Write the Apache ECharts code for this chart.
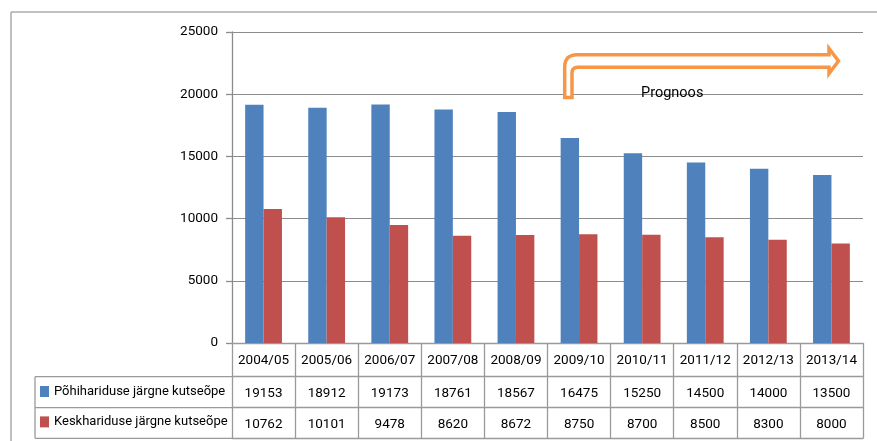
<!DOCTYPE html>
<html>
<head>
<meta charset="utf-8">
<script src="https://cdn.jsdelivr.net/npm/echarts@6/dist/echarts.min.js"></script>
<style>
html,body{margin:0;padding:0;background:#fff;}
#c{width:877px;height:441px;}
</style>
</head>
<body>
<div id="c"></div>
<script>
var categories = ['2004/05','2005/06','2006/07','2007/08','2008/09','2009/10','2010/11','2011/12','2012/13','2013/14'];
var seriesNames = ['Põhihariduse järgne kutseõpe','Keskhariduse järgne kutseõpe'];
var basicValues = [19153, 18912, 19173, 18761, 18567, 16475, 15250, 14500, 14000, 13500];
var secondaryValues = [10762, 10101, 9478, 8620, 8672, 8750, 8700, 8500, 8300, 8000];
var yMin = 0, yMax = 25000, yStep = 5000;
var forecastLabel = 'Prognoos';

var FONT = 'Roboto, "Liberation Sans", sans-serif';
var GRID_COLOR = '#8c8c8c';
var TABLE_COLOR = '#9a9a9a';
var W = 877, H = 441;
var G = {left: 232, right: 863, top: 32, bottom: 343};
var rowLines = [376.7, 407.7, 438.3];
var tableLeft = 35;

function quad(p0, c, p1, n){
  var pts = [];
  for (var i = 1; i <= n; i++){
    var t = i / n, u = 1 - t;
    pts.push([u*u*p0[0] + 2*u*t*c[0] + t*t*p1[0], u*u*p0[1] + 2*u*t*c[1] + t*t*p1[1]]);
  }
  return pts;
}
function arrowPoints(){
  var pts = [[564.7, 97.5], [564.7, 67]];
  pts = pts.concat(quad([564.7, 67], [564.7, 54.8], [577, 54.8], 8));
  pts.push([829, 54.8], [829, 48.5], [838.5, 61], [829, 73.5], [829, 67.3], [578, 67.3]);
  pts = pts.concat(quad([578, 67.3], [572, 67.3], [572, 73], 5));
  pts.push([572, 97.5]);
  return pts;
}

var chart = echarts.init(document.getElementById('c'), null, {renderer: 'canvas'});

var graphics = [
  {type:'line', shape:{x1:11, y1:12, x2:W, y2:12}, style:{stroke:'#ababab', lineWidth:1.5}, silent:true},
  {type:'line', shape:{x1:11, y1:12, x2:11, y2:H}, style:{stroke:'#ababab', lineWidth:1.5}, silent:true},
  {type:'line', shape:{x1:tableLeft, y1:rowLines[0], x2:tableLeft, y2:rowLines[2]}, style:{stroke:TABLE_COLOR, lineWidth:1.3}, silent:true}
];
rowLines.forEach(function(y){
  graphics.push({type:'line', shape:{x1:tableLeft, y1:y, x2:G.left, y2:y}, style:{stroke:TABLE_COLOR, lineWidth:1.3}, silent:true});
});
graphics.push({
  type:'polygon', z:100, silent:true,
  shape:{points:arrowPoints()},
  style:{fill:'#ffffff', stroke:'#F79646', lineWidth:3.5, lineJoin:'miter'}
});
graphics.push({
  type:'text', z:101, left:641, top:86, silent:true,
  style:{text:forecastLabel, fill:'#000', font:'14.5px ' + FONT}
});

var rowAxis = function(offset, values){
  return {
    type:'category', data:categories, position:'bottom', offset:offset, gridIndex:0,
    axisLine:{show:true, lineStyle:{color:TABLE_COLOR, width:1.3}},
    axisTick:{show:false},
    axisLabel:{show:!!values, interval:0, margin:10, fontSize:13.5, color:'#000', fontFamily:FONT,
      formatter:function(v, i){ return values ? String(values[i]) : ''; }},
    splitLine:{show:false}
  };
};

var option = {
  animation:false,
  backgroundColor:'#fff',
  textStyle:{fontFamily:FONT},
  grid:{left:G.left, right:W-G.right, top:G.top, bottom:H-G.bottom, containLabel:false},
  legend:{
    orient:'vertical', left:40, top:384.5, padding:0, icon:'rect', itemWidth:9, itemHeight:11, itemGap:16.4,
    textStyle:{fontSize:13, color:'#000', fontFamily:FONT, lineHeight:14},
    selectedMode:false,
    data:seriesNames
  },
  xAxis:[
    {
      type:'category', data:categories, position:'bottom',
      axisLine:{show:true, lineStyle:{color:TABLE_COLOR, width:1.3}},
      axisTick:{show:true, interval:0, length:rowLines[2]-G.bottom, lineStyle:{color:TABLE_COLOR, width:1.3}},
      axisLabel:{interval:0, margin:11, fontSize:13.5, color:'#000', fontFamily:FONT},
      splitLine:{show:false}
    },
    rowAxis(rowLines[0]-G.bottom, basicValues),
    rowAxis(rowLines[1]-G.bottom, secondaryValues),
    rowAxis(rowLines[2]-G.bottom, null)
  ],
  yAxis:{
    type:'value', min:yMin, max:yMax, interval:yStep,
    axisLine:{show:true, lineStyle:{color:GRID_COLOR, width:1.3}},
    axisTick:{show:true, length:6, lineStyle:{color:GRID_COLOR, width:1.3}},
    axisLabel:{margin:14, fontSize:13.5, color:'#000', fontFamily:FONT,
      formatter:function(v){ return String(v); }},
    splitLine:{show:true, lineStyle:{color:GRID_COLOR, width:1.2}}
  },
  series:[
    {name:seriesNames[0], type:'bar', xAxisIndex:0, data:basicValues, barWidth:18.4, barGap:'0%',
     itemStyle:{color:'#4F81BD'}},
    {name:seriesNames[1], type:'bar', xAxisIndex:0, data:secondaryValues, barWidth:18.4, barGap:'0%',
     itemStyle:{color:'#C0504D'}}
  ],
  graphic:graphics
};
chart.setOption(option);
</script>
</body>
</html>
